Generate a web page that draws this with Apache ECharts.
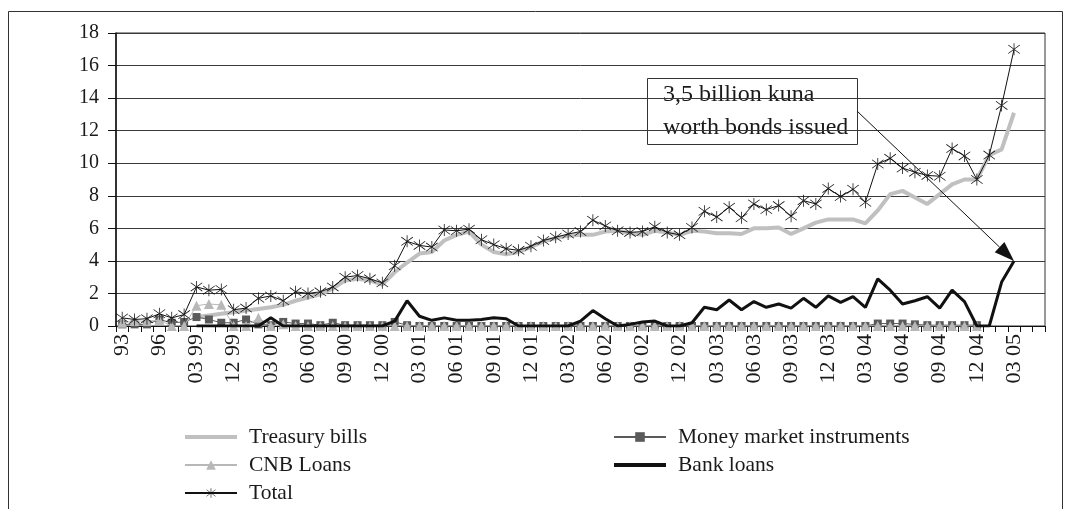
<!DOCTYPE html>
<html>
<head>
<meta charset="utf-8">
<script src="https://cdn.jsdelivr.net/npm/echarts@6/dist/echarts.min.js"></script>
<style>
  html, body { margin: 0; padding: 0; background: #fff; }
  #chart { width: 1067px; height: 509px; }
</style>
</head>
<body>
<div id="chart"></div>
<script>
// Category axis: yearly 1993-1998, quarterly 1999, monthly from 2000
const categories = [
  '93', '94', '95', '96', '97', '98',
  '03 99', '06 99', '09 99', '12 99',
  '01 00', '02 00', '03 00', '04 00', '05 00', '06 00', '07 00', '08 00', '09 00', '10 00', '11 00', '12 00',
  '01 01', '02 01', '03 01', '04 01', '05 01', '06 01', '07 01', '08 01', '09 01', '10 01', '11 01', '12 01',
  '01 02', '02 02', '03 02', '04 02', '05 02', '06 02', '07 02', '08 02', '09 02', '10 02', '11 02', '12 02',
  '01 03', '02 03', '03 03', '04 03', '05 03', '06 03', '07 03', '08 03', '09 03', '10 03', '11 03', '12 03',
  '01 04', '02 04', '03 04', '04 04', '05 04', '06 04', '07 04', '08 04', '09 04', '10 04', '11 04', '12 04',
  '01 05', '02 05', '03 05', '04 05', '05 05'
];

const yTicks = { min: 0, max: 18, step: 2 };

const treasuryBills = [
  null, null, null, null, null, null,
  0.55, 0.65, 0.75, 0.85,
  0.95, 1.05, 1.15, 1.3, 1.55, 1.75, 1.95, 2.3, 2.8, 2.9, 2.8, 2.55,
  3.3, 3.9, 4.45, 4.55, 5.25, 5.6, 5.8, 5.0, 4.55, 4.4, 4.55, 4.85,
  5.2, 5.4, 5.55, 5.6, 5.6, 5.8, 5.85, 5.7, 5.6, 5.85, 5.75, 5.6,
  5.85, 5.8, 5.7, 5.7, 5.65, 6.0, 6.0, 6.05, 5.65, 6.0, 6.35, 6.55,
  6.55, 6.55, 6.3, 7.1, 8.1, 8.3, 7.9, 7.5, 8.1, 8.7, 9.0, 9.0,
  10.5, 10.85, 13.1, null, null
];

const moneyMarket = [
  0.1, 0.1, 0.1, 0.4, 0.2, 0.25,
  0.55, 0.4, 0.2, 0.2,
  0.4, 0.1, 0.05, 0.25, 0.15, 0.15, 0.05, 0.2, 0.05, 0.05, 0.05, 0.05,
  0.25, 0.05, 0, 0, 0, 0, 0, 0, 0, 0, 0, 0,
  0, 0, 0, 0, 0, 0, 0, 0, 0, 0, 0, 0,
  0, 0, 0, 0, 0, 0, 0, 0, 0, 0, 0, 0,
  0, 0, 0, 0.15, 0.15, 0.15, 0.1, 0.05, 0.05, 0.05, 0.05, 0.05,
  null, null, null, null, null
];

const cnbLoans = [
  0.2, 0.3, 0.3, 0.35, 0, 0,
  1.25, 1.35, 1.3, 0,
  0, 0.5, 0, 0.1, 0, 0, 0, 0, 0, 0, 0, 0,
  0, 0, 0, 0, 0, 0, 0, 0, 0, 0, 0, 0,
  0, 0, 0, 0, 0, 0, 0, 0, 0, 0, 0, 0,
  0, 0, 0, 0, 0, 0, 0, 0, 0, 0, 0, 0,
  0, 0, 0, 0, 0, 0, 0, 0, 0, 0, 0, 0,
  null, null, null, null, null
];

const bankLoans = [
  null, null, null, null, null, null,
  0, 0, 0, 0,
  0, 0, 0.5, 0, 0, 0, 0, 0, 0, 0, 0, 0,
  0.3, 1.55, 0.6, 0.35, 0.5, 0.35, 0.35, 0.4, 0.5, 0.45, 0, 0,
  0, 0, 0, 0.3, 0.95, 0.45, 0, 0.1, 0.25, 0.3, 0, 0,
  0.2, 1.15, 1.0, 1.6, 1.0, 1.5, 1.15, 1.35, 1.1, 1.7, 1.15, 1.85,
  1.45, 1.8, 1.15, 2.9, 2.2, 1.35, 1.55, 1.8, 1.1, 2.2, 1.5, 0,
  0, 2.7, 4.0, null, null
];

const total = [
  0.5, 0.4, 0.45, 0.75, 0.5, 0.7,
  2.4, 2.2, 2.25, 1.0,
  1.1, 1.7, 1.85, 1.55, 2.1, 2.0, 2.1, 2.4, 3.0, 3.1, 2.9, 2.65,
  3.7, 5.2, 4.95, 4.85, 5.9, 5.85, 5.95, 5.3, 5.0, 4.75, 4.65, 4.9,
  5.25, 5.45, 5.65, 5.8, 6.5, 6.15, 5.85, 5.75, 5.8, 6.1, 5.75, 5.6,
  6.05, 7.05, 6.7, 7.3, 6.65, 7.5, 7.15, 7.4, 6.75, 7.7, 7.5, 8.45,
  7.95, 8.4, 7.6, 9.95, 10.3, 9.7, 9.45, 9.25, 9.2, 10.9, 10.45, 9.0,
  10.5, 13.55, 17.0, null, null
];

const noteLines = ['3,5 billion kuna', 'worth bonds issued'];
const notePoint = ['03 05', 4.0];

const FONT = '"Liberation Serif", "DejaVu Serif", serif';
const INK = '#1a1a1a';

// six-armed asterisk marker
const asterisk = 'path://M9.4,0 L10.6,0 L10.6,20 L9.4,20 Z ' +
  'M0.63,3.47 L18.63,17.47 L19.37,16.53 L1.37,2.53 Z ' +
  'M1.37,17.47 L19.37,3.47 L18.63,2.53 L0.63,16.53 Z';

const chart = echarts.init(document.getElementById('chart'), null, { renderer: 'canvas' });

const legendText = { fontFamily: FONT, fontSize: 21.5, color: INK, lineHeight: 21, padding: [0, 0, 0, 7] };
const hiddenMark = { opacity: 0, color: 'rgba(0,0,0,0)', borderWidth: 0 };

// annotation box, placed in the upper right of the plot
const noteBox = { left: 647, top: 78, width: 210, height: 66 };

const baseGraphic = [
  {
    id: 'frame', type: 'rect', silent: true, z: -1,
    shape: { x: 8.5, y: 11.5, width: 1054, height: 520 },
    style: { fill: 'none', stroke: '#333', lineWidth: 1 }
  },
  {
    id: 'note', type: 'group', left: noteBox.left, top: noteBox.top, z: 100,
    children: [
      {
        type: 'rect',
        shape: { x: 0.5, y: 0.5, width: noteBox.width, height: noteBox.height },
        style: { fill: '#fff', stroke: '#333', lineWidth: 1 }
      },
      {
        type: 'text', x: 16, y: 0,
        style: {
          text: noteLines.join('\n'),
          font: '24px ' + FONT, fill: INK, lineHeight: 33
        }
      }
    ]
  }
];

chart.setOption({
  animation: false,
  backgroundColor: '#fff',
  textStyle: { fontFamily: FONT, color: INK },
  grid: {
    left: 116, right: 22, top: 33, bottom: 183,
    show: true, borderColor: '#333', borderWidth: 1, backgroundColor: 'transparent'
  },
  legend: [
    {
      data: [
        { name: 'Treasury bills', itemStyle: hiddenMark, lineStyle: { width: 4, color: '#c0c0c0' } },
        'CNB Loans',
        'Total'
      ],
      orient: 'vertical', left: 183, top: 426, padding: 0,
      itemWidth: 52, itemHeight: 12, itemGap: 6,
      textStyle: legendText
    },
    {
      data: [
        'Money market instruments',
        { name: 'Bank loans', itemStyle: hiddenMark, lineStyle: { width: 4, color: '#111' } }
      ],
      orient: 'vertical', left: 612, top: 426, padding: 0,
      itemWidth: 52, itemHeight: 12, itemGap: 6,
      textStyle: legendText
    }
  ],
  xAxis: {
    type: 'category',
    data: categories,
    boundaryGap: true,
    axisLine: { show: true, lineStyle: { color: '#111', width: 1 } },
    axisTick: { show: true, interval: 0, length: 6, lineStyle: { color: '#111' } },
    axisLabel: {
      interval: 2, rotate: 90, margin: 8,
      fontFamily: FONT, fontSize: 22, color: INK
    },
    splitLine: { show: false }
  },
  yAxis: {
    type: 'value',
    min: yTicks.min, max: yTicks.max, interval: yTicks.step,
    axisLine: { show: true, lineStyle: { color: '#111', width: 1.5 } },
    axisTick: { show: true, length: 8, lineStyle: { color: '#111' } },
    axisLabel: { margin: 17, fontFamily: FONT, fontSize: 20, color: INK },
    splitLine: { show: true, lineStyle: { color: '#3a3a3a', width: 1 } }
  },
  series: [
    {
      name: 'Treasury bills', type: 'line', data: treasuryBills,
      symbol: 'none', showSymbol: false,
      lineStyle: { color: '#c0c0c0', width: 4 },
      itemStyle: { color: '#c0c0c0' }, z: 2
    },
    {
      name: 'Money market instruments', type: 'line', data: moneyMarket,
      symbol: 'rect', symbolSize: 8, showAllSymbol: true,
      lineStyle: { color: '#5a5a5a', width: 1 },
      itemStyle: { color: '#5a5a5a' }, z: 3
    },
    {
      name: 'CNB Loans', type: 'line', data: cnbLoans,
      symbol: 'triangle', symbolSize: 10, showAllSymbol: true,
      lineStyle: { color: '#b8b8b8', width: 1 },
      itemStyle: { color: '#b8b8b8' }, z: 4
    },
    {
      name: 'Bank loans', type: 'line', data: bankLoans,
      symbol: 'none', showSymbol: false,
      lineStyle: { color: '#111', width: 3 },
      itemStyle: { color: '#111' }, z: 5
    },
    {
      name: 'Total', type: 'line', data: total,
      symbol: asterisk, symbolSize: 12, showAllSymbol: true,
      lineStyle: { color: '#111', width: 1 },
      itemStyle: { color: '#111' }, z: 6
    }
  ],
  graphic: baseGraphic
});

// pointer from the note box to the Bank loans value it describes
const tip = chart.convertToPixel({ seriesIndex: 3 }, notePoint);
const start = [noteBox.left + noteBox.width, noteBox.top + 33];
const dx = tip[0] - start[0], dy = tip[1] - start[1];
const len = Math.sqrt(dx * dx + dy * dy);
const ux = dx / len, uy = dy / len;
const headLen = 20, headHalf = 7;
const bx = tip[0] - ux * headLen, by = tip[1] - uy * headLen;

chart.setOption({
  graphic: baseGraphic.concat([
    {
      id: 'pointerLine', type: 'line', silent: true, z: 90,
      shape: { x1: start[0], y1: start[1], x2: bx, y2: by },
      style: { stroke: '#111', lineWidth: 1 }
    },
    {
      id: 'pointerHead', type: 'polygon', silent: true, z: 90,
      shape: {
        points: [
          [tip[0], tip[1]],
          [bx - uy * headHalf, by + ux * headHalf],
          [bx + uy * headHalf, by - ux * headHalf]
        ]
      },
      style: { fill: '#111' }
    }
  ])
});
</script>
</body>
</html>
